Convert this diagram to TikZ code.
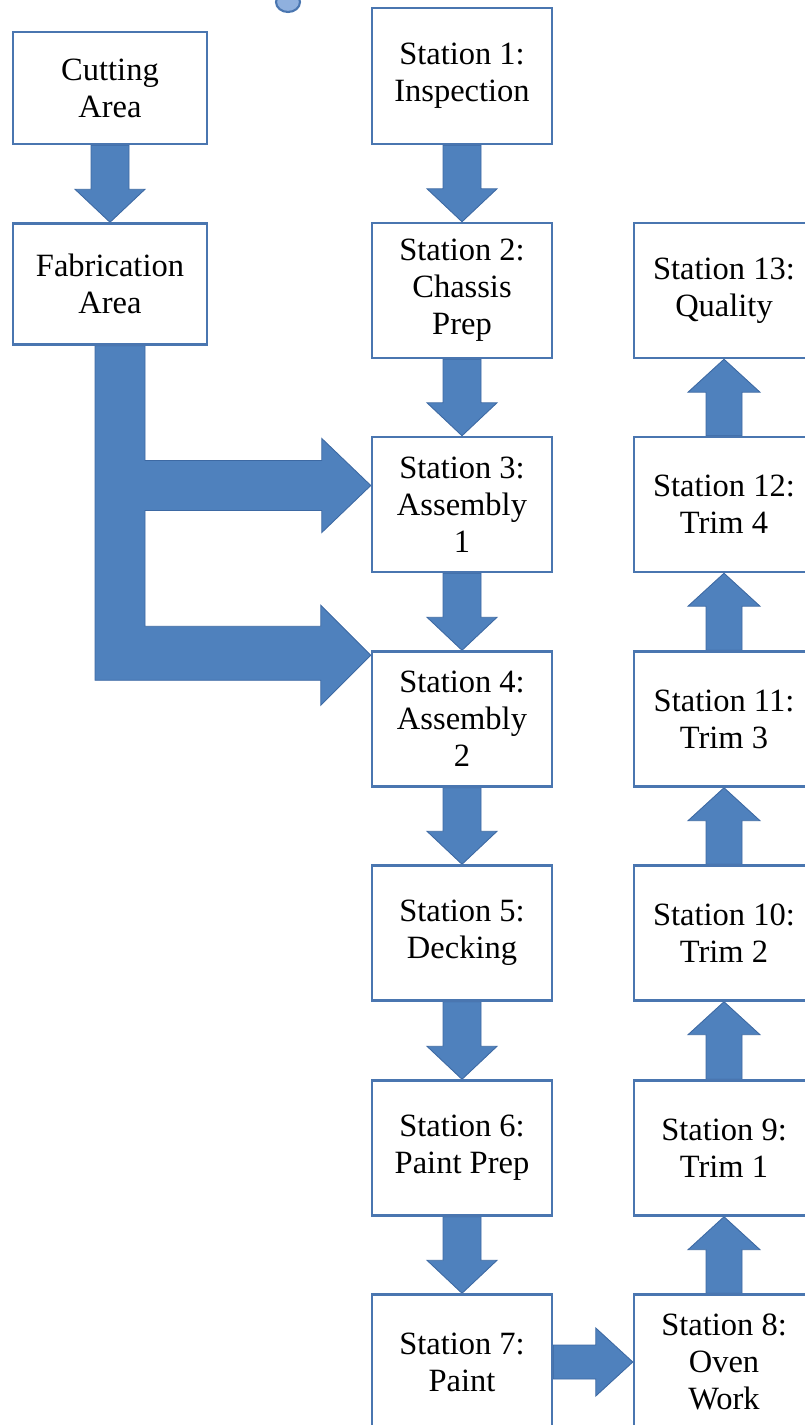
\documentclass[tikz,border=0pt]{standalone}
\usepackage{fontspec}
\setmainfont{Liberation Serif}
\usetikzlibrary{calc,backgrounds}

\definecolor{boxblue}{HTML}{4A76B0}
\definecolor{arrowblue}{HTML}{4F81BD}
\definecolor{arrowedge}{HTML}{3D69A3}
\definecolor{blobfill}{HTML}{8FB0DE}

\tikzset{
  station/.style={draw=boxblue, fill=white, line width=1.4pt, align=center,
    minimum width=3.6cm, minimum height=2.7cm, inner sep=0pt,
    font=\fontsize{18.5}{21}\selectfont},
  area/.style={station, minimum width=3.88cm},
  blockarrow/.style={fill=arrowblue, draw=arrowedge, line width=0.5pt}
}

% block arrows between two boxes
\newcommand{\blockdown}[2]{%
  \path[blockarrow] ($(#1.south)+(-19,0)$) -- ($(#2.north)+(-19,-33)$)
    -- ($(#2.north)+(-35,-33)$) -- (#2.north) -- ($(#2.north)+(35,-33)$)
    -- ($(#2.north)+(19,-33)$) -- ($(#1.south)+(19,0)$) -- cycle;}
\newcommand{\blockup}[2]{%
  \path[blockarrow] ($(#1.north)+(-18,0)$) -- ($(#2.south)+(-18,33)$)
    -- ($(#2.south)+(-36,33)$) -- (#2.south) -- ($(#2.south)+(36,33)$)
    -- ($(#2.south)+(18,33)$) -- ($(#1.north)+(18,0)$) -- cycle;}
\newcommand{\blockright}[2]{%
  \path[blockarrow] ($(#1.east)+(0,-17)$) -- ($(#2.west)+(-37,-17)$)
    -- ($(#2.west)+(-37,-34)$) -- (#2.west) -- ($(#2.west)+(-37,34)$)
    -- ($(#2.west)+(-37,17)$) -- ($(#1.east)+(0,17)$) -- cycle;}

\begin{document}
\begin{tikzpicture}[x=0.02cm, y=-0.02cm]
  \useasboundingbox (0,0) rectangle (804,1425);

  \filldraw[fill=blobfill, draw=boxblue, line width=1.2pt] (288,2) ellipse (12 and 10);

  % left column
  \node[area, minimum height=2.24cm] (cut) at (110,88)  {Cutting\\Area};
  \node[area, minimum height=2.42cm] (fab) at (110,284) {Fabrication\\Area};

  % middle column
  \node[station, minimum height=2.72cm] (s1) at (462,76) {Station 1:\\Inspection};
  \node[station] (s2) at (462,290.5) {Station 2:\\Chassis\\Prep};
  \node[station] (s3) at (462,504.5) {Station 3:\\Assembly\\1};
  \node[station] (s4) at (462,719)   {Station 4:\\Assembly\\2};
  \node[station] (s5) at (462,933)   {Station 5:\\Decking};
  \node[station] (s6) at (462,1148)  {Station 6:\\Paint Prep};
  \node[station] (s7) at (462,1362)  {Station 7:\\Paint};

  % right column
  \node[station] (s13) at (724,290.5) {Station 13:\\Quality};
  \node[station] (s12) at (724,504.5) {Station 12:\\Trim 4};
  \node[station] (s11) at (724,719)   {Station 11:\\Trim 3};
  \node[station] (s10) at (724,933)   {Station 10:\\Trim 2};
  \node[station] (s9)  at (724,1148)  {Station 9:\\Trim 1};
  \node[station] (s8)  at (724,1362)  {Station 8:\\Oven\\Work};

  \coordinate (tipA) at ($(s3.west)+(0,-19)$);
  \coordinate (tipB) at ($(s4.north west)+(0,5)$);
  \coordinate (la) at ($(fab.south)+(-15,0)$);
  \coordinate (ra) at ($(fab.south)+(35,0)$);

  \begin{scope}[on background layer]
    \blockdown{cut}{fab}
    \blockdown{s1}{s2}
    \blockdown{s2}{s3}
    \blockdown{s3}{s4}
    \blockdown{s4}{s5}
    \blockdown{s5}{s6}
    \blockdown{s6}{s7}
    \blockright{s7}{s8}
    \blockup{s8}{s9}
    \blockup{s9}{s10}
    \blockup{s10}{s11}
    \blockup{s11}{s12}
    \blockup{s12}{s13}
    % fabrication feeds stations 3 and 4
    \path[blockarrow] (la) -- ($(la |- tipB)+(0,25)$) -- ($(tipB)+(-50,25)$)
      -- ($(tipB)+(-50,50)$) -- (tipB) -- ($(tipB)+(-50,-50)$)
      -- ($(tipB)+(-50,-29)$) -- ($(ra |- tipB)+(0,-29)$)
      -- ($(ra |- tipA)+(0,25)$) -- ($(tipA)+(-49,25)$)
      -- ($(tipA)+(-49,47)$) -- (tipA) -- ($(tipA)+(-49,-47)$)
      -- ($(tipA)+(-49,-25)$) -- ($(ra |- tipA)+(0,-25)$) -- (ra) -- cycle;
  \end{scope}
\end{tikzpicture}
\end{document}
